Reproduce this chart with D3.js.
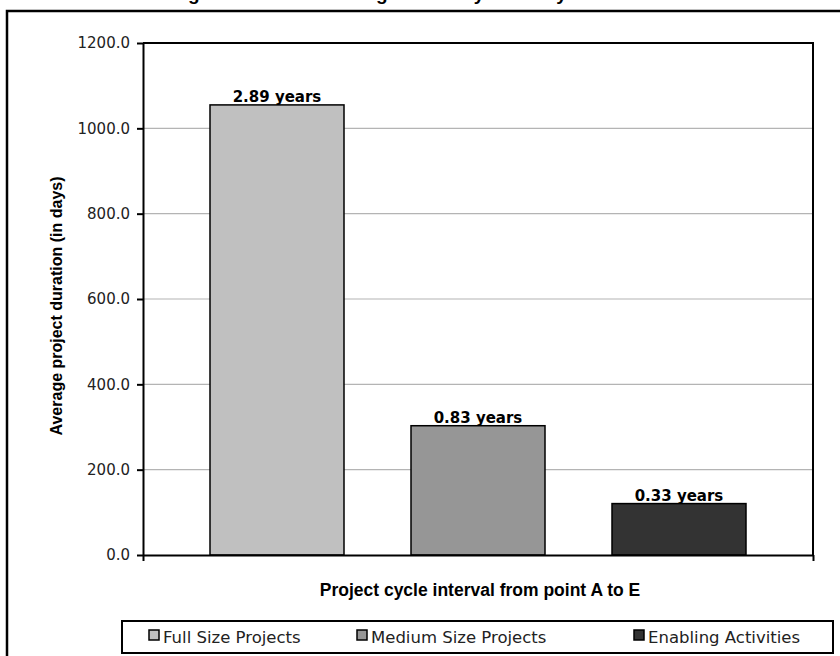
<!DOCTYPE html>
<html>
<head>
<meta charset="utf-8">
<script src="https://cdn.jsdelivr.net/npm/d3@7/dist/d3.min.js"></script>
<style>
  html, body { margin: 0; padding: 0; background: #fff; }
  svg { display: block; }
</style>
</head>
<body>
<svg id="chart" width="840" height="656"></svg>
<script>
// Average duration (in days) of the project cycle, point A to E
const seriesNames = ["Full Size Projects", "Medium Size Projects", "Enabling Activities"];
const durationDays = [1054.9, 303.0, 120.5];
const seriesColors = ["#c0c0c0", "#969696", "#333333"];
const yTickValues = [0, 200, 400, 600, 800, 1000, 1200];
const categoryLabel = "Project cycle interval from point A to E";
const yAxisLabel = "Average project duration (in days)";
const chartTitle = "Average Duration from Stage A to E by Modality";

const svg = d3.select("#chart");
const plot = { left: 143, right: 813, top: 43, bottom: 555 };

// outer chart frame (runs past the right and bottom edges)
svg.append("rect")
  .attr("x", 7).attr("y", 11)
  .attr("width", 880).attr("height", 700)
  .attr("fill", "#fff").attr("stroke", "#000").attr("stroke-width", 2.5);

// title sits above the frame, mostly beyond the top edge
svg.append("text")
  .attr("x", 136).attr("y", 0)
  .attr("font-family", "Liberation Sans, Arial, sans-serif")
  .attr("font-weight", "bold").attr("font-size", 19)
  .attr("fill", "#000")
  .text(chartTitle);

const y = d3.scaleLinear().domain([0, 1200]).range([plot.bottom, plot.top]);
const x = d3.scaleBand().domain(seriesNames)
  .range([plot.left, plot.right])
  .paddingInner(1 / 3).paddingOuter(1 / 3);

// gridlines
svg.append("g").selectAll("line")
  .data(yTickValues.filter(v => v > 0 && v < 1200))
  .join("line")
  .attr("x1", plot.left).attr("x2", plot.right)
  .attr("y1", d => y(d)).attr("y2", d => y(d))
  .attr("stroke", "#b4b4b4").attr("stroke-width", 1.2);

// plot-area border (top and right)
svg.append("path")
  .attr("d", `M${plot.left},${plot.top}H${plot.right}V${plot.bottom}`)
  .attr("fill", "none").attr("stroke", "#000").attr("stroke-width", 2);

// bars
svg.append("g").selectAll("rect")
  .data(seriesNames.map((s, i) => ({ s, v: durationDays[i], c: seriesColors[i] })))
  .join("rect")
  .attr("x", d => x(d.s))
  .attr("y", d => y(d.v))
  .attr("width", x.bandwidth())
  .attr("height", d => y(0) - y(d.v))
  .attr("fill", d => d.c)
  .attr("stroke", "#000").attr("stroke-width", 1.5);

// value labels, shown in years
svg.append("g").selectAll("text")
  .data(seriesNames.map((s, i) => ({ s, v: durationDays[i] })))
  .join("text")
  .attr("x", d => x(d.s) + x.bandwidth() / 2)
  .attr("y", d => y(d.v) - 3)
  .attr("text-anchor", "middle")
  .attr("font-family", "DejaVu Sans, Verdana, sans-serif")
  .attr("font-weight", "bold").attr("font-size", 15)
  .attr("fill", "#000")
  .text(d => d3.format(".2f")(d.v / 365) + " years");

// y axis
const yAxis = d3.axisLeft(y).tickValues(yTickValues)
  .tickFormat(d3.format(".1f")).tickSizeInner(6).tickSizeOuter(0).tickPadding(7);
const gy = svg.append("g").attr("transform", `translate(${plot.left},0)`).call(yAxis);
gy.select(".domain").attr("stroke", "#000").attr("stroke-width", 2);
gy.selectAll(".tick line").attr("stroke", "#000").attr("stroke-width", 2);
gy.selectAll(".tick text")
  .attr("font-family", "DejaVu Sans, Verdana, sans-serif")
  .attr("font-size", 15).attr("fill", "#222");

// x axis: single category, ticks at the two ends only
const xEdge = d3.scaleLinear().domain([0, 1]).range([plot.left, plot.right]);
const xAxis = d3.axisBottom(xEdge).tickValues([0, 1]).tickFormat("")
  .tickSizeInner(6).tickSizeOuter(0);
const gx = svg.append("g").attr("transform", `translate(0,${plot.bottom})`).call(xAxis);
gx.select(".domain").attr("stroke", "#000").attr("stroke-width", 2);
gx.selectAll(".tick line").attr("stroke", "#000").attr("stroke-width", 2);

// axis titles
svg.append("text")
  .attr("transform", "translate(62,306) rotate(-90)")
  .attr("text-anchor", "middle")
  .attr("font-family", "Liberation Sans, Arial, sans-serif")
  .attr("font-weight", "bold").attr("font-size", 16)
  .text(yAxisLabel);

svg.append("text")
  .attr("x", 480).attr("y", 596)
  .attr("text-anchor", "middle")
  .attr("font-family", "Liberation Sans, Arial, sans-serif")
  .attr("font-weight", "bold").attr("font-size", 17.5)
  .text(categoryLabel);

// legend
const legend = { x: 122, y: 621, w: 711, h: 32 };
svg.append("rect")
  .attr("x", legend.x).attr("y", legend.y)
  .attr("width", legend.w).attr("height", legend.h)
  .attr("fill", "#fff").attr("stroke", "#000").attr("stroke-width", 2);
const itemX = [149, 357, 634];
const li = svg.append("g").selectAll("g")
  .data(seriesNames.map((s, i) => ({ s, c: seriesColors[i], x: itemX[i] })))
  .join("g")
  .attr("transform", d => `translate(${d.x},${legend.y + legend.h / 2})`);
li.append("rect")
  .attr("x", 0).attr("y", -7).attr("width", 10).attr("height", 10)
  .attr("fill", d => d.c).attr("stroke", "#000").attr("stroke-width", 1.5);
li.append("text")
  .attr("x", 14).attr("y", 6)
  .attr("font-family", "DejaVu Sans, Verdana, sans-serif")
  .attr("font-size", 16.5).attr("fill", "#222")
  .text(d => d.s);
</script>
</body>
</html>
